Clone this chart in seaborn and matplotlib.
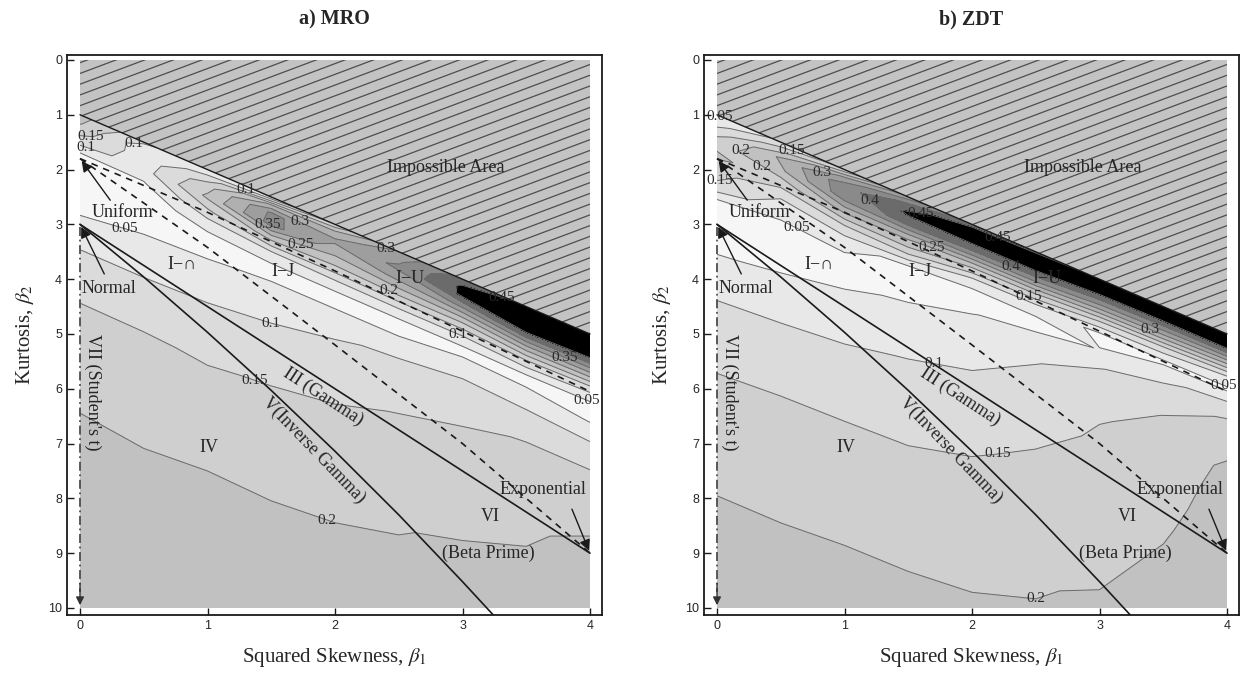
import numpy as np
import matplotlib
matplotlib.use("Agg")
import matplotlib.pyplot as plt
from matplotlib.collections import LineCollection
from matplotlib.patches import Polygon, Rectangle
import seaborn as sns

# sample grid read off the shading: columns are squared skewness (beta1),
# rows are the depth below the impossible-area line (beta2 - beta1 - 1)
beta1_cols = [0.0, 0.5, 1.0, 1.5, 2.0, 2.5, 3.0, 3.5, 4.0]
depth_rows = [0.0, 0.15, 0.3, 0.5, 0.75, 1.0, 1.3, 1.6, 2.0, 2.5, 3.0, 3.5,
              4.0, 5.0, 6.0, 7.0, 8.0, 9.3]

# a) MRO - one list per beta1 column, from the boundary downwards
mro_cols = [
    [0.22, 0.205, 0.17, 0.12, 0.03, 0.02, 0.02, 0.03, 0.064, 0.103, 0.129, 0.153, 0.166, 0.192, 0.21, 0.22, 0.225, 0.23],
    [0.11, 0.06, 0.07, 0.08, 0.045, 0.03, 0.03, 0.045, 0.07, 0.102, 0.126, 0.152, 0.164, 0.19, 0.207, 0.215, 0.22, 0.225],
    [0.06, 0.12, 0.18, 0.21, 0.14, 0.07, 0.025, 0.048, 0.075, 0.104, 0.126, 0.148, 0.162, 0.193, 0.207, 0.215, 0.22, 0.22],
    [0.048, 0.26, 0.36, 0.37, 0.22, 0.098, 0.03, 0.055, 0.083, 0.111, 0.133, 0.152, 0.165, 0.194, 0.205, 0.212, 0.215, 0.215],
    [0.16, 0.27, 0.31, 0.27, 0.2, 0.105, 0.03, 0.055, 0.095, 0.12, 0.141, 0.157, 0.168, 0.196, 0.205, 0.21, 0.21, 0.21],
    [0.31, 0.34, 0.36, 0.31, 0.22, 0.11, 0.03, 0.055, 0.107, 0.131, 0.152, 0.164, 0.176, 0.199, 0.205, 0.21, 0.21, 0.21],
    [0.42, 0.46, 0.46, 0.36, 0.22, 0.11, 0.03, 0.08, 0.117, 0.144, 0.16, 0.172, 0.19, 0.203, 0.205, 0.205, 0.205, 0.205],
    [0.46, 0.51, 0.51, 0.44, 0.28, 0.14, 0.03, 0.065, 0.115, 0.152, 0.167, 0.182, 0.197, 0.205, 0.21, 0.21, 0.21, 0.21],
    [0.46, 0.52, 0.51, 0.42, 0.27, 0.12, 0.03, 0.048, 0.105, 0.152, 0.175, 0.197, 0.205, 0.21, 0.21, 0.21, 0.21, 0.21],
]

# b) ZDT
zdt_cols = [
    [0.045, 0.08, 0.12, 0.18, 0.21, 0.17, 0.14, 0.03, 0.02, 0.047, 0.079, 0.106, 0.127, 0.159, 0.18, 0.201, 0.21, 0.215],
    [0.11, 0.18, 0.26, 0.24, 0.17, 0.105, 0.06, 0.035, 0.03, 0.056, 0.085, 0.11, 0.131, 0.161, 0.182, 0.201, 0.21, 0.215],
    [0.16, 0.31, 0.38, 0.38, 0.27, 0.155, 0.075, 0.04, 0.04, 0.0675, 0.0925, 0.113, 0.134, 0.161, 0.182, 0.203, 0.21, 0.215],
    [0.32, 0.42, 0.46, 0.41, 0.26, 0.17, 0.03, 0.02, 0.057, 0.079, 0.102, 0.118, 0.136, 0.162, 0.185, 0.203, 0.21, 0.21],
    [0.42, 0.51, 0.47, 0.39, 0.22, 0.09, 0.02, 0.048, 0.07, 0.094, 0.112, 0.129, 0.145, 0.166, 0.19, 0.204, 0.205, 0.21],
    [0.44, 0.51, 0.47, 0.38, 0.21, 0.08, 0.03, 0.067, 0.098, 0.116, 0.132, 0.148, 0.158, 0.176, 0.197, 0.206, 0.206, 0.21],
    [0.455, 0.51, 0.44, 0.33, 0.16, 0.04, 0.052, 0.098, 0.121, 0.147, 0.157, 0.165, 0.173, 0.19, 0.205, 0.205, 0.205, 0.205],
    [0.46, 0.51, 0.43, 0.31, 0.14, 0.04, 0.09, 0.121, 0.151, 0.162, 0.173, 0.184, 0.195, 0.21, 0.215, 0.215, 0.215, 0.215],
    [0.46, 0.51, 0.43, 0.28, 0.105, 0.04, 0.118, 0.157, 0.183, 0.21, 0.22, 0.225, 0.225, 0.225, 0.225, 0.225, 0.225, 0.225],
]

# Pearson diagram lines (beta1, beta2)
limit_b1 = [0, 4]
limit_b2 = [1, 5]
gamma_b1 = [0, 4]
gamma_b2 = [3, 9]
invgamma_b1 = [0, 0.5, 1, 1.5, 2, 2.5, 3, 3.27]
invgamma_b2 = [3, 3.96, 4.97, 6.03, 7.14, 8.30, 9.52, 10.2]
ij_upper_b1 = [0, 1, 2, 3, 4]
ij_upper_b2 = [1.8, 2.78, 3.85, 4.95, 6.05]
ij_lower_b1 = [0, 1, 2, 3, 4]
ij_lower_b2 = [1.8, 3.42, 5.2, 7.0, 9.0]
student_b1 = [0, 0]
student_b2 = [3.05, 9.7]

levels = [0, 0.05, 0.1, 0.15, 0.2, 0.25, 0.3, 0.35, 0.4, 0.45, 1.0]
band_grays = ['0.965', '0.91', '0.86', '0.81', '0.755', '0.69', '0.62', '0.54', '0.42', '0.0']

sns.set_theme(style="ticks")
plt.rcParams['font.family'] = ['Liberation Serif', 'DejaVu Serif']
plt.rcParams['mathtext.fontset'] = 'stix'

TXT = 13


def hatch_area(ax):
    area = Polygon([(0, 0), (4, 0), (4, 5), (0, 1)], closed=True,
                   facecolor='0.765', edgecolor='none', zorder=3)
    ax.add_patch(area)
    segs = []
    for c in np.arange(0.05, 8.7, 0.196):
        segs.append([(0, c), (4, c - 0.874 * 4)])
    lc = LineCollection(segs, colors='0.3', linewidths=0.9, zorder=3.1)
    ax.add_collection(lc)
    lc.set_clip_path(area)


def draw_panel(ax, cols, title, spots):
    X, D = np.meshgrid(beta1_cols, depth_rows)
    Y = X + 1 + D
    Z = np.array(cols).T
    clip = Rectangle((0, 0), 4, 10, transform=ax.transData)
    cf = ax.contourf(X, Y, Z, levels=levels, colors=band_grays, zorder=1)
    cf.set_clip_path(clip)
    cl = ax.contour(X, Y, Z, levels=levels[1:-1], colors='0.42',
                    linewidths=0.7, zorder=1.5)
    cl.set_clip_path(clip)
    labs = ax.clabel(cl, manual=spots, inline=False, fontsize=11, fmt='%g',
                     colors='#2a2a2a')
    for t in labs:
        t.set_rotation(0)
        t.set_zorder(6)

    hatch_area(ax)

    kw = dict(ax=ax, color='k', estimator=None, sort=False, legend=False)
    sns.lineplot(x=limit_b1, y=limit_b2, linewidth=1.0, zorder=4, **kw)
    sns.lineplot(x=gamma_b1, y=gamma_b2, linewidth=1.2, zorder=4, **kw)
    sns.lineplot(x=invgamma_b1, y=invgamma_b2, linewidth=1.2, zorder=4, **kw)
    sns.lineplot(x=ij_upper_b1, y=ij_upper_b2, linewidth=1.2,
                 linestyle=(0, (4, 3.5)), zorder=4, **kw)
    sns.lineplot(x=ij_lower_b1, y=ij_lower_b2, linewidth=1.2,
                 linestyle=(0, (4, 3.5)), zorder=4, **kw)
    sns.lineplot(x=student_b1, y=student_b2, linewidth=1.3, color='0.3',
                 linestyle=(0, (5, 2, 1, 2)), zorder=4, ax=ax,
                 estimator=None, sort=False, legend=False)

    arrow = dict(arrowstyle='-|>', color='k', lw=1.0, mutation_scale=16)
    ax.annotate('', xy=(0, 1.8), xytext=(0.25, 2.6), arrowprops=arrow, zorder=5)
    ax.annotate('', xy=(0, 3.0), xytext=(0.2, 3.95), arrowprops=arrow, zorder=5)
    ax.annotate('', xy=(4, 9.0), xytext=(3.85, 8.15), arrowprops=arrow, zorder=5)
    ax.annotate('', xy=(0, 10.0), xytext=(0, 9.5),
                arrowprops=dict(arrowstyle='-|>', color='0.2', lw=1.0,
                                mutation_scale=12), zorder=5)

    labels = [
        (2.87, 1.96, 'Impossible Area', 0),
        (0.33, 2.78, 'Uniform', 0),
        (0.23, 4.17, 'Normal', 0),
        (0.8, 3.73, 'I\u2212\u2229', 0),
        (1.59, 3.86, 'I\u2212J', 0),
        (2.59, 3.99, 'I\u2212U', 0),
        (1.91, 6.15, 'III (Gamma)', -33),
        (1.83, 7.13, 'V(Inverse Gamma)', -46),
        (1.01, 7.07, 'IV', 0),
        (3.22, 8.33, 'VI', 0),
        (3.2, 9.0, '(Beta Prime)', 0),
        (3.63, 7.84, 'Exponential', 0),
        (0.1, 6.07, "VII (Student's t)", -90),
    ]
    for x, y, s, rot in labels:
        ax.text(x, y, s, ha='center', va='center', rotation=rot,
                rotation_mode='anchor', fontsize=TXT, zorder=7)

    ax.set_xlim(-0.102, 4.094)
    ax.set_ylim(10.128, -0.091)
    ax.set_xticks([0, 1, 2, 3, 4])
    ax.set_yticks(range(0, 11))
    ax.tick_params(direction='in', length=5, width=1, labelsize=9,
                   top=False, right=False, color='k')
    for t in ax.get_xticklabels() + ax.get_yticklabels():
        t.set_fontfamily('Liberation Sans')
    for sp in ax.spines.values():
        sp.set_visible(True)
        sp.set_color('k')
        sp.set_linewidth(1.3)
    ax.set_xlabel(r'Squared Skewness, $\beta_1$', fontsize=15, labelpad=10)
    ax.set_ylabel(r'Kurtosis, $\beta_2$', fontsize=15, labelpad=9)
    ax.set_title(title, fontsize=14.5, fontweight='bold', pad=22)


fig = plt.figure(figsize=(12.44, 6.83), dpi=100)
ax_a = fig.add_axes([67 / 1244, 68 / 683, 535 / 1244, 560 / 683])
ax_b = fig.add_axes([704 / 1244, 68 / 683, 535 / 1244, 560 / 683])

spots_a = [(0.09, 1.28), (0.05, 1.55), (0.42, 1.55), (1.3, 2.38), (1.48, 2.96),
           (1.72, 2.96), (1.73, 3.38), (2.4, 3.5), (3.3, 4.39), (2.42, 4.24),
           (2.96, 5.06), (3.8, 5.45), (3.98, 6.18), (0.35, 3.1), (1.5, 4.75),
           (1.37, 5.8), (1.94, 8.37)]
spots_b = [(0.02, 1.08), (0.18, 1.55), (0.36, 1.9), (0.59, 1.65), (0.02, 2.23),
           (0.82, 2.14), (1.2, 2.56), (1.6, 2.75), (0.61, 3.16), (1.68, 3.47),
           (2.2, 3.25), (2.3, 3.78), (2.44, 4.33), (3.4, 4.9), (3.98, 5.85),
           (1.7, 5.6), (2.2, 7.18), (2.5, 9.8)]

draw_panel(ax_a, mro_cols, 'a) MRO', spots_a)
draw_panel(ax_b, zdt_cols, 'b) ZDT', spots_b)

fig.savefig('out.png', dpi=100)
